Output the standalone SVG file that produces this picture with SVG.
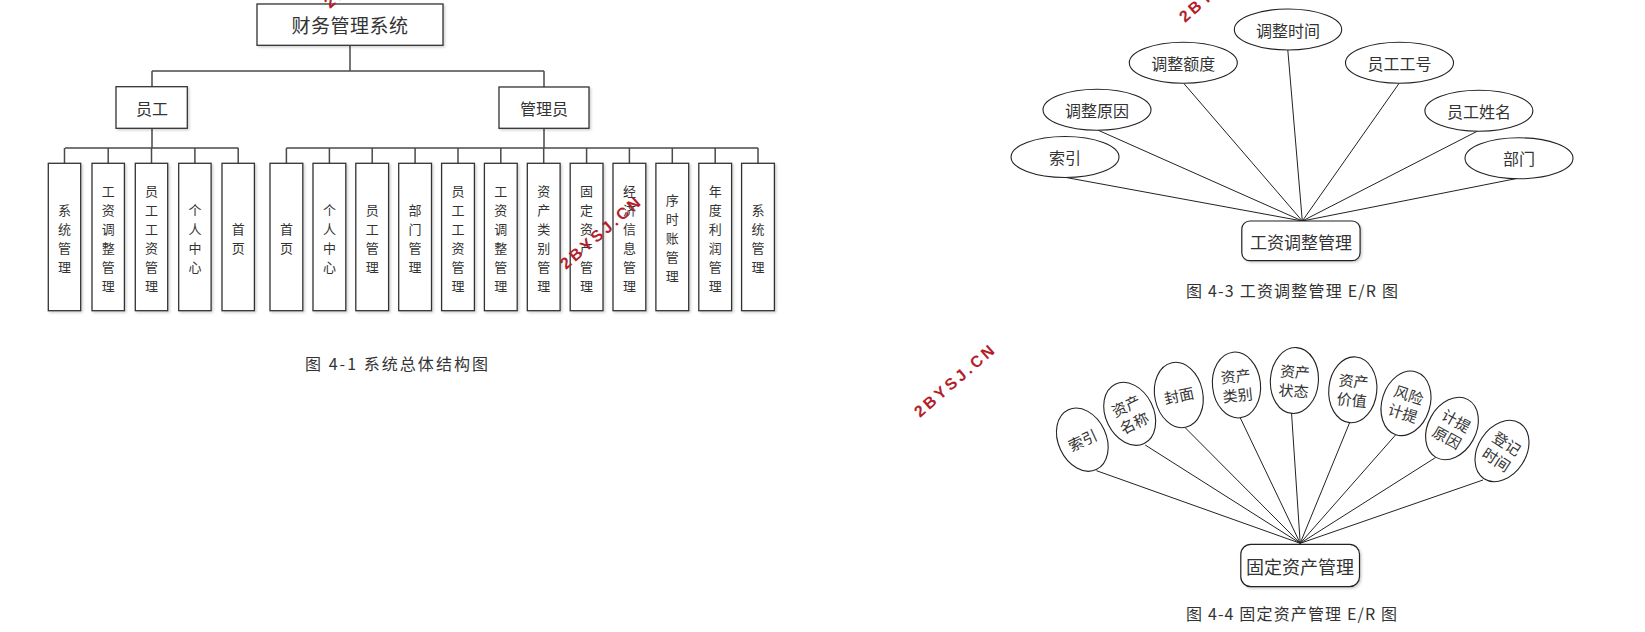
<svg xmlns="http://www.w3.org/2000/svg" width="1645" height="632" viewBox="0 0 1645 632">
<style>
text{font-family:"Noto Sans CJK SC","Noto Sans",sans-serif;fill:#333;}
.box{fill:#fff;stroke:#333;stroke-width:1.3;}
.tl{fill:none;stroke:#4a4a4a;stroke-width:1.5;}
.er{fill:none;stroke:#222;stroke-width:1;}
.ell{fill:#fff;stroke:#222;stroke-width:1.1;}
.rr{fill:#fff;stroke:#222;stroke-width:1.2;}
.lf{font-size:13px;text-anchor:middle;dominant-baseline:central;}
.mid{text-anchor:middle;dominant-baseline:central;}
.cap{font-size:16px;dominant-baseline:central;fill:#333;}
.wm{font-family:"Liberation Sans",Arial,sans-serif;font-weight:bold;font-size:16px;fill:#b4202a;}
</style>
<defs>
<filter id="sh" x="-20%" y="-20%" width="140%" height="140%">
<feDropShadow dx="1.5" dy="1.5" stdDeviation="1" flood-color="#000" flood-opacity="0.18"/>
</filter>
</defs>
<rect width="1645" height="632" fill="#fff"/>

<!-- Tree connectors -->
<g id="tree-connectors" class="tl">
<path d="M350 45.3V71M152 71H544M152 71V86.7M544 71V87"/>
<path d="M152 128.3V148M65 148H238.3M64.5 148V163.3M108.2 148V163.3M151.5 148V163.3M194.9 148V163.3M238.2 148V163.3"/>
<path d="M544 128.3V148M286.4 148H758M286.4 148V163.3M329.4 148V163.3M372.2 148V163.3M415.1 148V163.3M458 148V163.3M500.8 148V163.3M543.7 148V163.3M586.6 148V163.3M629.4 148V163.3M672.3 148V163.3M715.2 148V163.3M758 148V163.3"/>
</g>

<g id="root"><rect class="box" filter="url(#sh)" x="257" y="4" width="186" height="41.3"/><text class="mid" x="350" y="24.5" font-size="19" letter-spacing="0.5">财务管理系统</text></g>
<g id="emp"><rect class="box" filter="url(#sh)" x="116" y="86.7" width="71.3" height="41.6"/><text class="mid" x="152" y="107.5" font-size="16">员工</text></g>
<g id="adm"><rect class="box" filter="url(#sh)" x="499" y="87" width="90" height="41.3"/><text class="mid" x="544" y="107.5" font-size="16">管理员</text></g>

<!-- Employee leaves -->
<g id="e1"><rect class="box" filter="url(#sh)" x="48.3" y="163.3" width="32.4" height="147.4"/><text class="lf"><tspan x="64.5" y="208.5">系</tspan><tspan x="64.5" y="227.5">统</tspan><tspan x="64.5" y="246.5">管</tspan><tspan x="64.5" y="265.5">理</tspan></text></g>
<g id="e2"><rect class="box" filter="url(#sh)" x="92" y="163.3" width="32.4" height="147.4"/><text class="lf"><tspan x="108.2" y="189.5">工</tspan><tspan x="108.2" y="208.5">资</tspan><tspan x="108.2" y="227.5">调</tspan><tspan x="108.2" y="246.5">整</tspan><tspan x="108.2" y="265.5">管</tspan><tspan x="108.2" y="284.5">理</tspan></text></g>
<g id="e3"><rect class="box" filter="url(#sh)" x="135.3" y="163.3" width="32.4" height="147.4"/><text class="lf"><tspan x="151.5" y="189.5">员</tspan><tspan x="151.5" y="208.5">工</tspan><tspan x="151.5" y="227.5">工</tspan><tspan x="151.5" y="246.5">资</tspan><tspan x="151.5" y="265.5">管</tspan><tspan x="151.5" y="284.5">理</tspan></text></g>
<g id="e4"><rect class="box" filter="url(#sh)" x="178.7" y="163.3" width="32.4" height="147.4"/><text class="lf"><tspan x="194.9" y="208.5">个</tspan><tspan x="194.9" y="227.5">人</tspan><tspan x="194.9" y="246.5">中</tspan><tspan x="194.9" y="265.5">心</tspan></text></g>
<g id="e5"><rect class="box" filter="url(#sh)" x="222" y="163.3" width="32.4" height="147.4"/><text class="lf"><tspan x="238.2" y="227.5">首</tspan><tspan x="238.2" y="246.5">页</tspan></text></g>

<!-- Admin leaves -->
<g id="a1"><rect class="box" filter="url(#sh)" x="270" y="163.3" width="32.8" height="147.4"/><text class="lf"><tspan x="286.4" y="227.5">首</tspan><tspan x="286.4" y="246.5">页</tspan></text></g>
<g id="a2"><rect class="box" filter="url(#sh)" x="313" y="163.3" width="32.8" height="147.4"/><text class="lf"><tspan x="329.4" y="208.5">个</tspan><tspan x="329.4" y="227.5">人</tspan><tspan x="329.4" y="246.5">中</tspan><tspan x="329.4" y="265.5">心</tspan></text></g>
<g id="a3"><rect class="box" filter="url(#sh)" x="355.8" y="163.3" width="32.8" height="147.4"/><text class="lf"><tspan x="372.2" y="208.5">员</tspan><tspan x="372.2" y="227.5">工</tspan><tspan x="372.2" y="246.5">管</tspan><tspan x="372.2" y="265.5">理</tspan></text></g>
<g id="a4"><rect class="box" filter="url(#sh)" x="398.7" y="163.3" width="32.8" height="147.4"/><text class="lf"><tspan x="415.1" y="208.5">部</tspan><tspan x="415.1" y="227.5">门</tspan><tspan x="415.1" y="246.5">管</tspan><tspan x="415.1" y="265.5">理</tspan></text></g>
<g id="a5"><rect class="box" filter="url(#sh)" x="441.6" y="163.3" width="32.8" height="147.4"/><text class="lf"><tspan x="458" y="189.5">员</tspan><tspan x="458" y="208.5">工</tspan><tspan x="458" y="227.5">工</tspan><tspan x="458" y="246.5">资</tspan><tspan x="458" y="265.5">管</tspan><tspan x="458" y="284.5">理</tspan></text></g>
<g id="a6"><rect class="box" filter="url(#sh)" x="484.4" y="163.3" width="32.8" height="147.4"/><text class="lf"><tspan x="500.8" y="189.5">工</tspan><tspan x="500.8" y="208.5">资</tspan><tspan x="500.8" y="227.5">调</tspan><tspan x="500.8" y="246.5">整</tspan><tspan x="500.8" y="265.5">管</tspan><tspan x="500.8" y="284.5">理</tspan></text></g>
<g id="a7"><rect class="box" filter="url(#sh)" x="527.3" y="163.3" width="32.8" height="147.4"/><text class="lf"><tspan x="543.7" y="189.5">资</tspan><tspan x="543.7" y="208.5">产</tspan><tspan x="543.7" y="227.5">类</tspan><tspan x="543.7" y="246.5">别</tspan><tspan x="543.7" y="265.5">管</tspan><tspan x="543.7" y="284.5">理</tspan></text></g>
<g id="a8"><rect class="box" filter="url(#sh)" x="570.2" y="163.3" width="32.8" height="147.4"/><text class="lf"><tspan x="586.6" y="189.5">固</tspan><tspan x="586.6" y="208.5">定</tspan><tspan x="586.6" y="227.5">资</tspan><tspan x="586.6" y="246.5">产</tspan><tspan x="586.6" y="265.5">管</tspan><tspan x="586.6" y="284.5">理</tspan></text></g>
<g id="a9"><rect class="box" filter="url(#sh)" x="613" y="163.3" width="32.8" height="147.4"/><text class="lf"><tspan x="629.4" y="189.5">经</tspan><tspan x="629.4" y="208.5">济</tspan><tspan x="629.4" y="227.5">信</tspan><tspan x="629.4" y="246.5">息</tspan><tspan x="629.4" y="265.5">管</tspan><tspan x="629.4" y="284.5">理</tspan></text></g>
<g id="a10"><rect class="box" filter="url(#sh)" x="655.9" y="163.3" width="32.8" height="147.4"/><text class="lf"><tspan x="672.3" y="199">序</tspan><tspan x="672.3" y="218">时</tspan><tspan x="672.3" y="237">账</tspan><tspan x="672.3" y="256">管</tspan><tspan x="672.3" y="275">理</tspan></text></g>
<g id="a11"><rect class="box" filter="url(#sh)" x="698.8" y="163.3" width="32.8" height="147.4"/><text class="lf"><tspan x="715.2" y="189.5">年</tspan><tspan x="715.2" y="208.5">度</tspan><tspan x="715.2" y="227.5">利</tspan><tspan x="715.2" y="246.5">润</tspan><tspan x="715.2" y="265.5">管</tspan><tspan x="715.2" y="284.5">理</tspan></text></g>
<g id="a12"><rect class="box" filter="url(#sh)" x="741.6" y="163.3" width="32.8" height="147.4"/><text class="lf"><tspan x="758" y="208.5">系</tspan><tspan x="758" y="227.5">统</tspan><tspan x="758" y="246.5">管</tspan><tspan x="758" y="265.5">理</tspan></text></g>

<text class="cap" x="305" y="363" textLength="183" lengthAdjust="spacing">图 4-1 系统总体结构图</text>

<!-- ER 4-3 connectors -->
<g id="er1-connectors" class="er">
<path d="M1065 177.3L1302.3 221M1097.6 130L1302.3 221M1183.7 83.3L1302.3 221M1287.8 50L1302.3 221M1399.1 83.3L1302.3 221M1478.3 130.7L1302.3 221M1517.7 178.3L1302.3 221"/>
</g>
<g id="er1-t"><ellipse class="ell" cx="1288" cy="29.5" rx="53.7" ry="20.5"/><text class="mid" x="1288" y="29.5" font-size="16">调整时间</text></g>
<g id="er1-d"><ellipse class="ell" cx="1183.3" cy="62.8" rx="54" ry="20.5"/><text class="mid" x="1183.3" y="62.8" font-size="16">调整额度</text></g>
<g id="er1-no"><ellipse class="ell" cx="1399.5" cy="62.8" rx="54" ry="20.5"/><text class="mid" x="1399.5" y="62.8" font-size="16">员工工号</text></g>
<g id="er1-r"><ellipse class="ell" cx="1097" cy="109.7" rx="54" ry="20.5"/><text class="mid" x="1097" y="109.7" font-size="16">调整原因</text></g>
<g id="er1-nm"><ellipse class="ell" cx="1478.9" cy="110.8" rx="54" ry="20.5"/><text class="mid" x="1478.9" y="110.8" font-size="16">员工姓名</text></g>
<g id="er1-i"><ellipse class="ell" cx="1065" cy="157" rx="54" ry="20.5"/><text class="mid" x="1065" y="157" font-size="16">索引</text></g>
<g id="er1-dp"><ellipse class="ell" cx="1519" cy="158.3" rx="54" ry="20.5"/><text class="mid" x="1519" y="158.3" font-size="16">部门</text></g>
<g id="er1-e"><rect class="rr" filter="url(#sh)" x="1241.8" y="221" width="118.3" height="39.7" rx="8"/><text class="mid" x="1301" y="241" font-size="17">工资调整管理</text></g>
<text class="cap" x="1186" y="290" textLength="212" lengthAdjust="spacing">图 4-3 工资调整管理 E/R 图</text>

<!-- ER 4-4 connectors -->
<g id="er2-connectors" class="er">
<path d="M1096.5 470.7L1300.2 543.3M1145.2 445L1300.2 543.3M1185 427.5L1300.2 543.3M1240 417.3L1300.2 543.3M1291.5 412.7L1300.2 543.3M1349.6 422.7L1300.2 543.3M1395.5 435L1300.2 543.3M1435.6 457.5L1300.2 543.3M1483 480L1300.2 543.3"/>
</g>
<g id="er2-1" transform="translate(1082.3 439.7) rotate(-25)"><ellipse class="ell" rx="24" ry="33"/><text class="mid" font-size="15">索引</text></g>
<g id="er2-2" transform="translate(1129.7 413.8) rotate(-26)"><ellipse class="ell" rx="24" ry="33"/><text class="mid" font-size="15"><tspan x="0" y="-10">资产</tspan><tspan x="0" y="9">名称</tspan></text></g>
<g id="er2-3" transform="translate(1178.8 395) rotate(-12)"><ellipse class="ell" rx="24" ry="33"/><text class="mid" font-size="15">封面</text></g>
<g id="er2-4" transform="translate(1236.5 385) rotate(-6)"><ellipse class="ell" rx="24" ry="33"/><text class="mid" font-size="15"><tspan x="0" y="-10">资产</tspan><tspan x="0" y="9">类别</tspan></text></g>
<g id="er2-5" transform="translate(1294.4 380.5) rotate(4)"><ellipse class="ell" rx="24" ry="33"/><text class="mid" font-size="15"><tspan x="0" y="-10">资产</tspan><tspan x="0" y="9">状态</tspan></text></g>
<g id="er2-6" transform="translate(1352.8 389.8) rotate(5.5)"><ellipse class="ell" rx="24" ry="33"/><text class="mid" font-size="15"><tspan x="0" y="-10">资产</tspan><tspan x="0" y="9">价值</tspan></text></g>
<g id="er2-7" transform="translate(1406 403.3) rotate(18)"><ellipse class="ell" rx="24" ry="33"/><text class="mid" font-size="15"><tspan x="0" y="-10">风险</tspan><tspan x="0" y="9">计提</tspan></text></g>
<g id="er2-8" transform="translate(1452 428.5) rotate(29)"><ellipse class="ell" rx="24" ry="33"/><text class="mid" font-size="15"><tspan x="0" y="-10">计提</tspan><tspan x="0" y="9">原因</tspan></text></g>
<g id="er2-9" transform="translate(1502 451) rotate(33)"><ellipse class="ell" rx="24" ry="33"/><text class="mid" font-size="15"><tspan x="0" y="-10">登记</tspan><tspan x="0" y="9">时间</tspan></text></g>
<g id="er2-e"><rect class="rr" filter="url(#sh)" x="1240.8" y="544.3" width="118.7" height="42.4" rx="10"/><text class="mid" x="1300" y="565.5" font-size="18">固定资产管理</text></g>
<text class="cap" x="1186" y="612.5" textLength="211" lengthAdjust="spacing">图 4-4 固定资产管理 E/R 图</text>

<!-- watermarks -->
<text class="wm" transform="translate(330 9) rotate(-41)" textLength="100" lengthAdjust="spacing">2BYSJ.CN</text>
<text class="wm" transform="translate(566 270) rotate(-41)" textLength="100" lengthAdjust="spacing">2BYSJ.CN</text>
<text class="wm" transform="translate(1185 23) rotate(-41)" textLength="100" lengthAdjust="spacing">2BYSJ.CN</text>
<text class="wm" transform="translate(920 418) rotate(-41)" textLength="100" lengthAdjust="spacing">2BYSJ.CN</text>
</svg>
